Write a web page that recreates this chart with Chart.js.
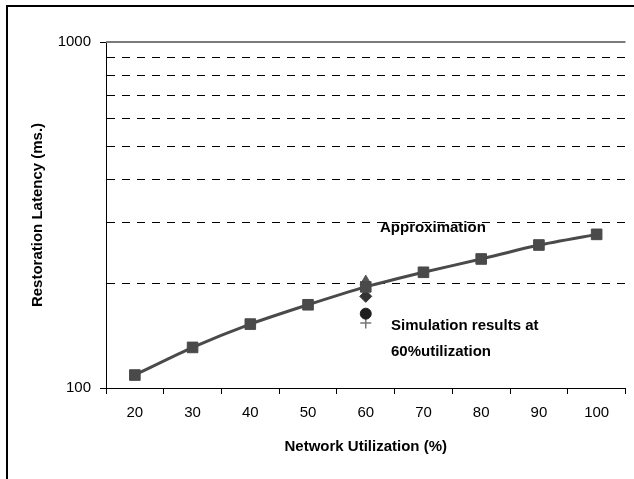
<!DOCTYPE html>
<html><head><meta charset="utf-8">
<script src="https://cdn.jsdelivr.net/npm/chart.js@4/dist/chart.umd.min.js"></script>
<style>
html,body{margin:0;padding:0;background:#fff;}
#wrap{position:relative;width:634px;height:479px;overflow:hidden;}
#frame{position:absolute;left:6px;top:5px;width:700px;height:600px;border-left:2px solid #000;border-top:2px solid #000;box-sizing:border-box;}
canvas{position:absolute;left:0;top:0;}
</style></head><body>
<div id="wrap"><div id="frame"></div><canvas id="c" width="634" height="479"></canvas></div>
<script>
// ---- data ----
const categories = ['20','30','40','50','60','70','80','90','100'];
const approximation = [109, 131, 153, 174, 196, 216, 236, 259, 278];
const simCategory = '60';
const simTriangle = [203];
const simDiamond = [184];
const simCircle = [164];
const simPlus = [154];
const yTickValues = [100, 200, 300, 400, 500, 600, 700, 800, 900, 1000];
const yTickLabels = [100, 1000];
const annotationApprox = ['Approximation'];
const annotationSim = ['Simulation results at', '60%utilization'];

const FONT = "'Liberation Sans', Arial, sans-serif";
const atSim = v => categories.map(c => c === simCategory ? v[0] : null);

function simSet(label, values, style, radius, color, extra) {
  return Object.assign({
    label, data: atSim(values), showLine: false,
    pointStyle: style, pointRadius: radius, pointHoverRadius: radius,
    backgroundColor: color, borderColor: color, pointBorderWidth: 1
  }, extra || {});
}

const extras = {
  id: 'extras',
  beforeDatasetsDraw(chart) {
    const {ctx, chartArea: a, scales: {y}} = chart;
    const py = y.getPixelForValue(1000);
    ctx.save();
    ctx.strokeStyle = '#7a7a7a';
    ctx.lineWidth = 2;
    ctx.beginPath();
    ctx.moveTo(a.left, py);
    ctx.lineTo(a.right, py);
    ctx.stroke();
    ctx.restore();
  },
  afterDraw(chart) {
    const {ctx} = chart;
    ctx.save();
    ctx.fillStyle = '#000';
    ctx.font = 'bold 15px ' + FONT;
    ctx.textBaseline = 'middle';
    ctx.textAlign = 'left';
    ctx.fillText(annotationApprox[0], 380, 228);
    ctx.fillText(annotationSim[0], 391, 326);
    ctx.fillText(annotationSim[1], 391, 352);
    ctx.restore();
  }
};

new Chart(document.getElementById('c'), {
  type: 'line',
  data: {
    labels: categories,
    datasets: [
      {
        label: 'Approximation', data: approximation,
        borderColor: '#4a4a4a', backgroundColor: '#4a4a4a', borderWidth: 3,
        pointStyle: 'rect', pointRadius: 7.5, pointHoverRadius: 7.5, pointBorderWidth: 1,
        tension: 0.2, fill: false
      },
      simSet('Simulation A', simTriangle, 'triangle', 6.5, '#555555'),
      simSet('Simulation B', simDiamond, 'rectRot', 6, '#333333'),
      simSet('Simulation C', simCircle, 'circle', 5.5, '#1e1e1e'),
      simSet('Simulation D', simPlus, 'cross', 5.5, '#777777', {pointBorderWidth: 1.5})
    ]
  },
  options: {
    responsive: false, devicePixelRatio: 1, animation: false,
    layout: {padding: {top: 42, right: 5, left: 0, bottom: 0}},
    plugins: {legend: {display: false}, tooltip: {enabled: false}},
    scales: {
      x: {
        type: 'category', offset: true,
        grid: {offset: true, drawOnChartArea: false, drawTicks: true, tickLength: 6, color: '#000', tickColor: '#000'},
        border: {display: true, color: '#000', width: 1},
        ticks: {color: '#000', font: {family: FONT, size: 15}, padding: 10, maxRotation: 0, autoSkip: false},
        title: {display: true, text: 'Network Utilization (%)', color: '#000',
                font: {family: FONT, size: 15, weight: 'bold'}, padding: {top: 0, bottom: 23}},
        afterFit(s) { s.height = 91; }
      },
      y: {
        type: 'logarithmic', min: 100, max: 1000,
        afterBuildTicks(s) { s.ticks = yTickValues.map(v => ({value: v})); },
        grid: {
          drawTicks: true, tickLength: 6,
          color: c => (c.tick && c.tick.value > 100 && c.tick.value < 1000) ? '#000' : 'rgba(0,0,0,0)',
          tickColor: c => (c.tick && yTickLabels.includes(c.tick.value)) ? '#000' : 'rgba(0,0,0,0)',
          lineWidth: 1
        },
        border: {display: true, color: '#000', width: 1, dash: [8, 7]},
        ticks: {
          color: '#000', font: {family: FONT, size: 15}, padding: 9, autoSkip: false,
          callback: v => yTickLabels.includes(v) ? String(v) : ''
        },
        title: {display: true, text: 'Restoration Latency (ms.)', color: '#000',
                font: {family: FONT, size: 15, weight: 'bold'}, padding: {top: 29, bottom: 0}},
        afterFit(s) { s.width = 106; }
      }
    }
  },
  plugins: [extras]
});
</script>
</body></html>
